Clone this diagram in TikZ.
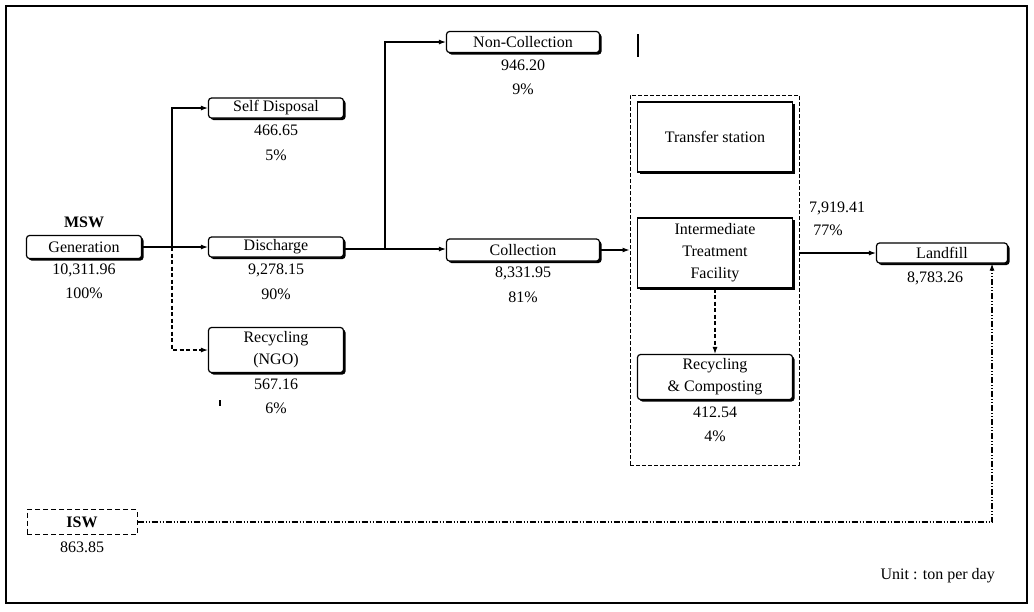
\documentclass[tikz,border=0pt]{standalone}
\usepackage{fontspec}
\setmainfont{Liberation Serif}
\usetikzlibrary{arrows.meta,shadows,calc}
\begin{document}
\begin{tikzpicture}[x=1pt,y=-1pt,
  lbl/.style={font=\fontsize{16}{18}\selectfont, inner sep=0pt},
  rbox/.style={draw, rounded corners=3pt, line width=1.2pt, fill=white, inner sep=0pt, align=center,
    font=\fontsize{16}{22}\selectfont,
    drop shadow={shadow xshift=2pt, shadow yshift=-2pt, fill=black, opacity=1}},
  sbox/.style={draw, line width=1.2pt, fill=white, inner sep=0pt, align=center,
    font=\fontsize{16}{22}\selectfont,
    drop shadow={shadow xshift=2pt, shadow yshift=-2pt, fill=black, opacity=1}},
  conn/.style={line width=1.1pt, -{Latex[length=7pt,width=5pt]}},
  dconn/.style={conn, dash pattern=on 4pt off 2.5pt},
  ddconn/.style={conn, dash pattern=on 6pt off 2pt on 1pt off 2pt on 1pt off 2pt}
]
\useasboundingbox (0,0) rectangle (1034,611);
\draw[line width=1.2pt] (6,6) rectangle (1027,603);

% container
\node[draw, dash pattern=on 4pt off 2pt, line width=1pt, minimum width=169pt, minimum height=370pt, inner sep=0pt] (cont) at (714.5,280) {};

% boxes
\node[rbox, minimum width=115pt, minimum height=23pt] (gen) at (84,247) {Generation};
\node[lbl, font=\fontsize{16}{18}\selectfont\bfseries] (msw) at (84,222) {MSW};
\node[lbl] (genv) at (84,270) {10,311.96};
\node[lbl] (genp) at (84,293) {100\%};

\node[rbox, minimum width=135pt, minimum height=20pt] (self) at (276,108) {Self Disposal};
\node[lbl] (selfv) at (276,130) {466.65};
\node[lbl] (selfp) at (276,155) {5\%};

\node[rbox, minimum width=135pt, minimum height=20pt] (dis) at (276,247) {Discharge};
\node[lbl] (disv) at (276,270) {9,278.15};
\node[lbl] (disp) at (276,294) {90\%};

\node[rbox, minimum width=135pt, minimum height=45pt] (ngo) at (276,350) {Recycling\\(NGO)};
\node[lbl] (ngov) at (276,384) {567.16};
\node[lbl] (ngop) at (276,408) {6\%};

\node[rbox, minimum width=153pt, minimum height=21pt] (nonc) at (523,42) {Non-Collection};
\node[lbl] (noncv) at (523,65) {946.20};
\node[lbl] (noncp) at (523,89) {9\%};

\node[rbox, minimum width=153pt, minimum height=22pt] (col) at (523,250) {Collection};
\node[lbl] (colv) at (523,273) {8,331.95};
\node[lbl] (colp) at (523,297) {81\%};

\node[sbox, minimum width=155pt, minimum height=70pt] (ts) at (715,137) {Transfer station};
\node[sbox, minimum width=155pt, minimum height=70pt] (itf) at (715,253) {Intermediate\\Treatment\\Facility};
\node[rbox, minimum width=155pt, minimum height=45pt] (rc) at (715,377) {Recycling\\\&\ Composting};
\node[lbl] (rcv) at (715,412) {412.54};
\node[lbl] (rcp) at (715,436) {4\%};

\node[rbox, minimum width=131pt, minimum height=20pt] (lf) at (942,253) {Landfill};
\node[lbl] (lfv) at (935,278) {8,783.26};
\node[lbl] (itv) at (837,208) {7,919.41};
\node[lbl] (itp) at (828,230) {77\%};

\node[draw, dash pattern=on 5pt off 3pt, line width=1pt, minimum width=110pt, minimum height=25pt, inner sep=0pt,
  font=\fontsize{16}{18}\selectfont\bfseries] (isw) at (82,522) {ISW};
\node[lbl] (iswv) at (82,547) {863.85};

\node[lbl, anchor=east] (unit) at (995,576) {Unit : ton per day};

% connectors
\coordinate (br1) at (172,247);
\coordinate (br2) at (385,249);
\draw[conn] (gen.east) -- (dis.west);
\draw[conn] (br1) |- (self.west);
\draw[dconn] (br1) |- (ngo.west);
\draw[conn] (dis.east |- br2) -- (col.west |- br2);
\draw[conn] (br2) |- (nonc.west);
\draw[conn] (col.east) -- (col.east -| cont.west);
\draw[conn] (itf.east -| cont.east) -- (lf.west);
\draw[dconn] (itf.south) -- (rc.north);
\draw[ddconn] (isw.east) -| ([xshift=50pt]lf.south);

% scan marks
\draw[line width=2pt] (638,34) -- (638,57);
\draw[line width=1.5pt] (220,400) -- (220,406);
\end{tikzpicture}
\end{document}
